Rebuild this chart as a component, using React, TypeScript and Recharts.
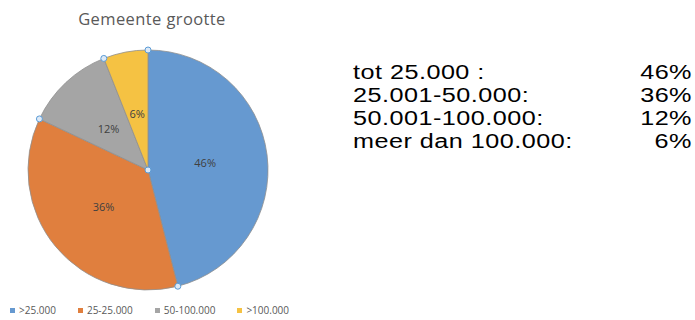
import React from "react";
import { Cell, Legend, Pie, PieChart } from "recharts";

const categories = [">25.000", "25-25.000", "50-100.000", ">100.000"];
const shares = [46, 36, 12, 6];
const colors = ["#6699d0", "#e07f3e", "#a5a5a5", "#f5c243"];
const tableLabels = ["tot 25.000 :", "25.001-50.000:", "50.001-100.000:", "meer dan 100.000:"];

const data = categories.map((name, i) => ({ name, value: shares[i] }));

const RADIAN = Math.PI / 180;
const chartFont = "'Open Sans', 'Noto Sans', sans-serif";

function SliceLabel(props: any) {
  const { cx, cy, midAngle, startAngle, outerRadius, percent, index } = props;
  const r = outerRadius * 0.48;
  const x = cx + r * Math.cos(-midAngle * RADIAN);
  const y = cy + r * Math.sin(-midAngle * RADIAN);
  // selection handles, like the source screenshot
  const hx = cx + outerRadius * Math.cos(-startAngle * RADIAN);
  const hy = cy + outerRadius * Math.sin(-startAngle * RADIAN);
  return (
    <g>
      <text
        x={x}
        y={y}
        textAnchor="middle"
        dominantBaseline="central"
        fontSize={11}
        fontFamily={chartFont}
        fill="#404040"
      >
        {`${Math.round(percent * 100)}%`}
      </text>
      <circle cx={hx} cy={hy} r={3} fill="#dce9f7" stroke="#5b9bd5" strokeWidth={1} />
      {index === 0 && (
        <circle cx={cx} cy={cy} r={3} fill="#dce9f7" stroke="#5b9bd5" strokeWidth={1} />
      )}
    </g>
  );
}

function LegendRow() {
  return (
    <div style={{ display: "flex", fontFamily: chartFont, fontSize: 10, color: "#595959" }}>
      {categories.map((c, i) => (
        <span key={c} style={{ display: "inline-flex", alignItems: "center", marginRight: 22 }}>
          <span
            style={{ width: 5, height: 5, background: colors[i], marginRight: 4, display: "inline-block" }}
          />
          {c}
        </span>
      ))}
    </div>
  );
}

export default function App() {
  return (
    <div style={{ position: "absolute", left: 0, top: 0, width: 695, height: 320, background: "#fff" }}>
      <PieChart width={695} height={320} margin={{ top: 0, right: 0, bottom: 0, left: 0 }}>
        <Pie
          data={data}
          dataKey="value"
          nameKey="name"
          cx={148}
          cy={170}
          outerRadius={120}
          startAngle={90}
          endAngle={-270}
          stroke="#8f8f8f"
          strokeWidth={0.8}
          labelLine={false}
          label={SliceLabel}
          isAnimationActive={false}
        >
          {data.map((d, i) => (
            <Cell key={d.name} fill={colors[i]} />
          ))}
        </Pie>
        <Legend
          content={() => <LegendRow />}
          wrapperStyle={{ position: "absolute", left: 10, top: 303, width: 340 }}
        />
      </PieChart>
      <div
        style={{
          position: "absolute",
          left: 0,
          top: 7,
          width: 304,
          textAlign: "center",
          fontFamily: chartFont,
          fontSize: 16.5,
          letterSpacing: 0.4,
          color: "#595959",
        }}
      >
        Gemeente grootte
      </div>
      <svg width={695} height={320} style={{ position: "absolute", left: 0, top: 0 }}>
        {tableLabels.map((t, i) => {
          const y = 79 + i * 23;
          return (
            <g key={t} fontFamily="'Liberation Sans', Arial, sans-serif" fontSize={21} fill="#000">
              <text transform={`translate(353 ${y}) scale(1.2 1)`} letterSpacing={0.4}>
                {t}
              </text>
              <text
                transform={`translate(692 ${y}) scale(1.2 1)`}
                textAnchor="end"
                letterSpacing={0.4}
              >
                {`${shares[i]}%`}
              </text>
            </g>
          );
        })}
      </svg>
    </div>
  );
}
